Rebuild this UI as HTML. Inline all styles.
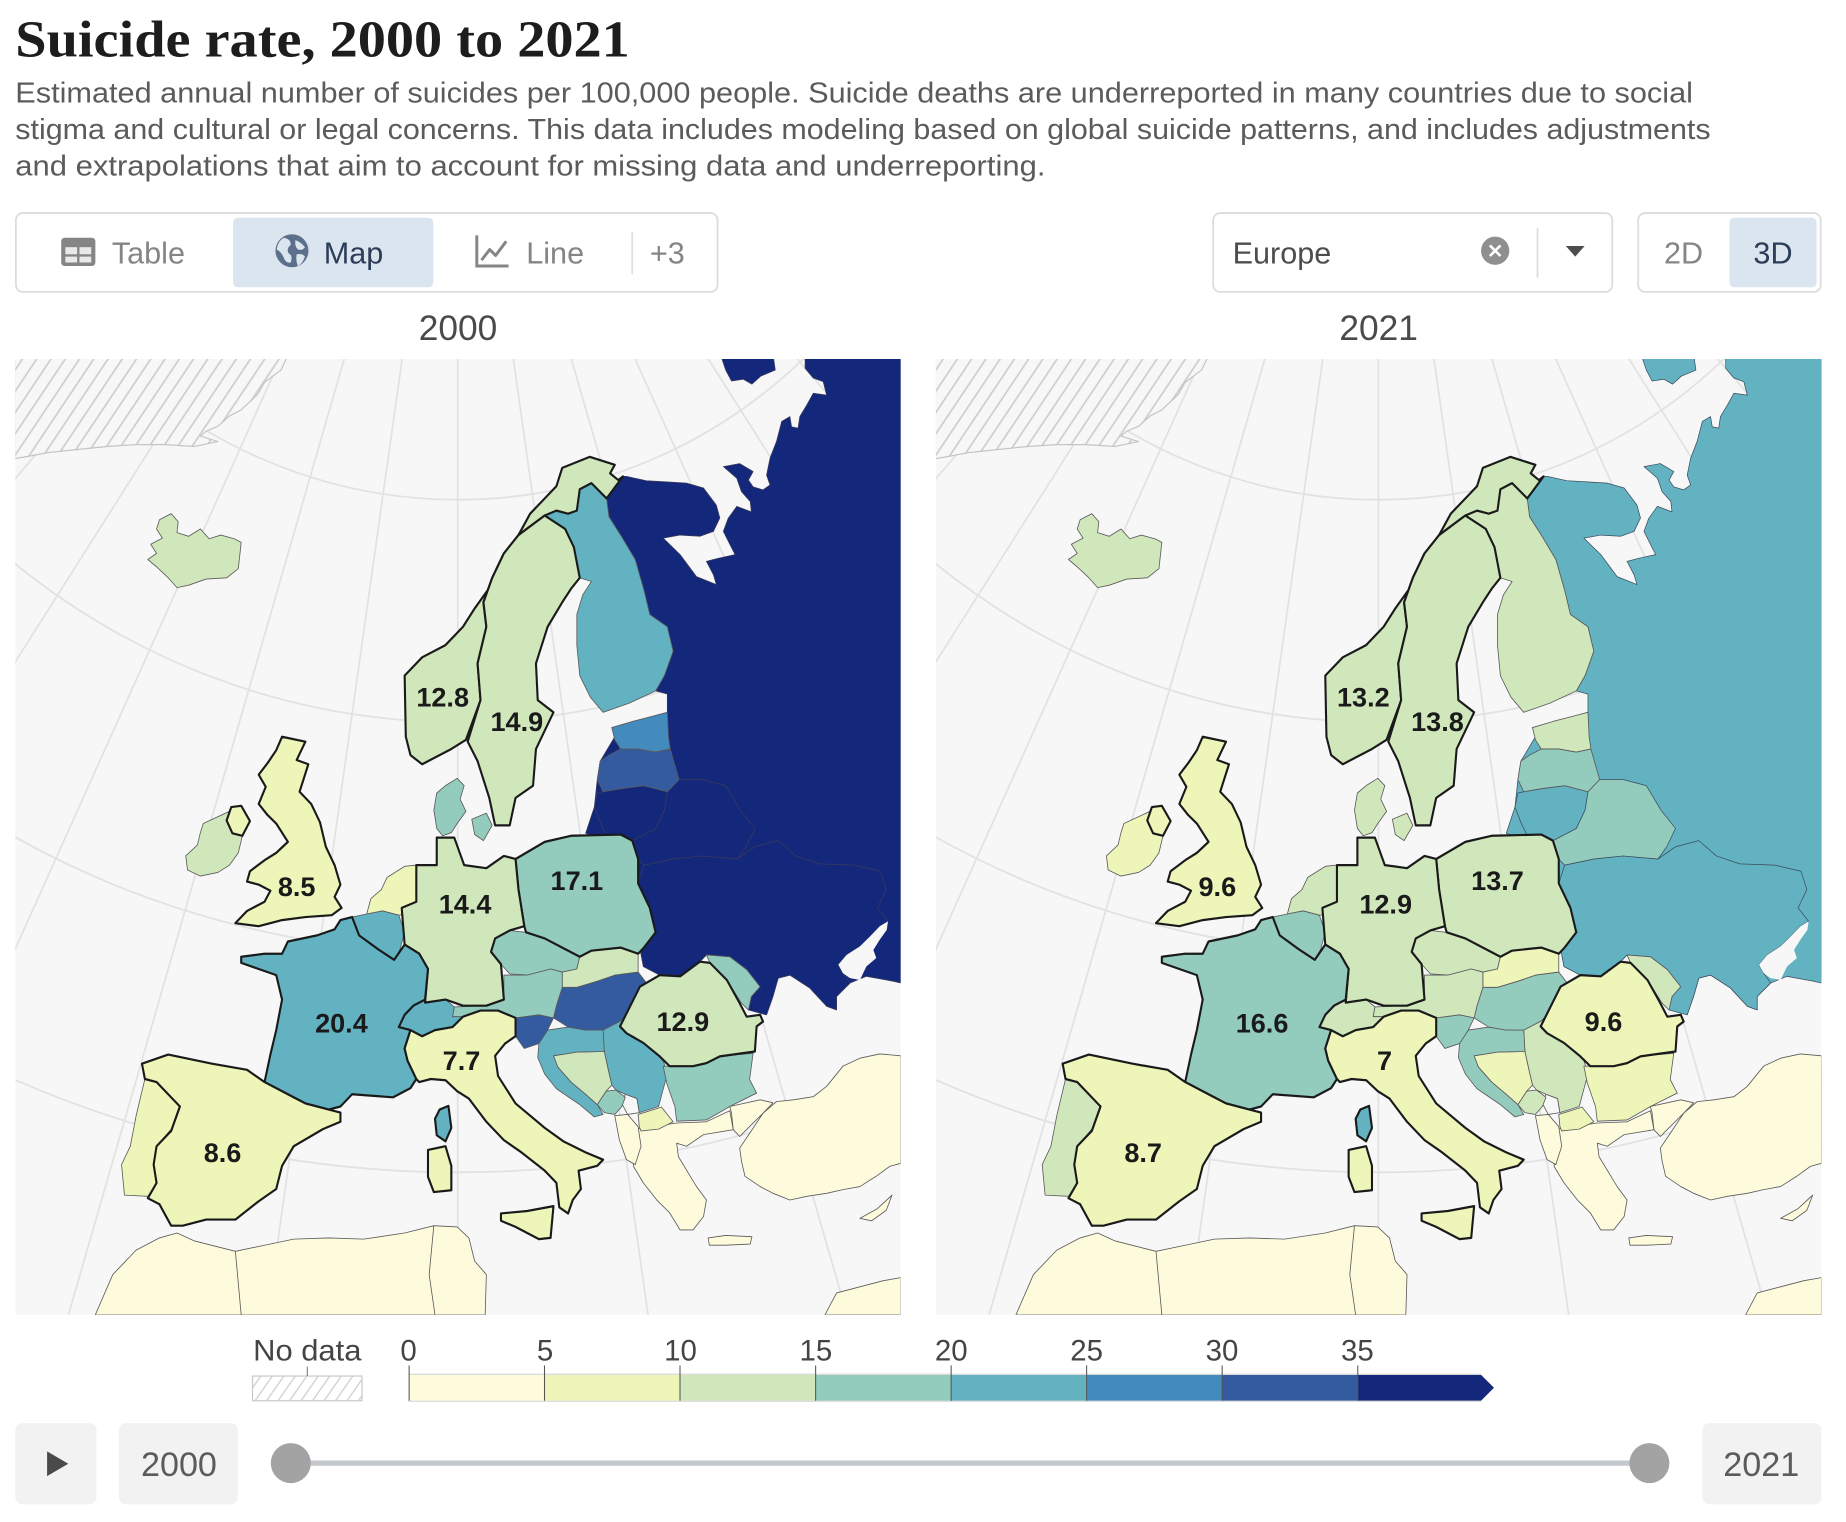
<!DOCTYPE html>
<html><head><meta charset="utf-8">
<style>html,body{margin:0;padding:0;background:#fff;overflow:hidden;width:1846px;height:1522px}svg{display:block}</style>
</head><body>
<svg xmlns="http://www.w3.org/2000/svg" width="1846" height="1522" viewBox="0 0 1568 1293" preserveAspectRatio="none" font-family="'Liberation Sans', sans-serif">
<defs>
<pattern id="hz" patternUnits="userSpaceOnUse" width="20" height="20" patternTransform="rotate(35)"><rect width="20" height="20" fill="#f7f7f7"/><line x1="10" y1="0" x2="10" y2="20" stroke="#c9c9c9" stroke-width="2.6"/></pattern>
<pattern id="hl" patternUnits="userSpaceOnUse" width="8" height="8" patternTransform="rotate(35)"><rect width="8" height="8" fill="#fff"/><line x1="4" y1="0" x2="4" y2="8" stroke="#cfcfcf" stroke-width="1.1"/></pattern>
<clipPath id="cl"><rect x="13" y="305" width="752" height="812"/></clipPath>
<clipPath id="cr"><rect x="795" y="305" width="752" height="812"/></clipPath>
</defs>
<rect width="1568" height="1293" fill="#fff"/>

<!-- Header -->
<text x="13" y="48" font-family="'Liberation Serif', serif" font-weight="bold" font-size="44" fill="#1d1d1d" textLength="522" lengthAdjust="spacingAndGlyphs">Suicide rate, 2000 to 2021</text>
<g font-size="24.5" fill="#5b5b5b">
<text x="13" y="87" textLength="1425" lengthAdjust="spacingAndGlyphs">Estimated annual number of suicides per 100,000 people. Suicide deaths are underreported in many countries due to social</text>
<text x="13" y="118" textLength="1440" lengthAdjust="spacingAndGlyphs">stigma and cultural or legal concerns. This data includes modeling based on global suicide patterns, and includes adjustments</text>
<text x="13" y="149" textLength="875" lengthAdjust="spacingAndGlyphs">and extrapolations that aim to account for missing data and underreporting.</text>
</g>

<!-- Controls -->
<rect x="13.5" y="181" width="596" height="67" rx="6" fill="#fff" stroke="#dcdcdc" stroke-width="1.5"/>
<rect x="198" y="185" width="170" height="59" rx="4" fill="#dbe5f0"/>
<rect x="52" y="202" width="29" height="24" rx="3" fill="#858585"/>
<rect x="55.5" y="210" width="10" height="6" fill="#e9e9e9"/><rect x="67.5" y="210" width="10" height="6" fill="#e9e9e9"/>
<rect x="55.5" y="218" width="10" height="5" fill="#e9e9e9"/><rect x="67.5" y="218" width="10" height="5" fill="#e9e9e9"/>
<text x="95" y="224" font-size="26" fill="#858585">Table</text>
<circle cx="248" cy="213" r="14" fill="#5c6f8b"/>
<path d="M241,202 q6,1 6,6 q-4,3 -2,7 q4,2 2,8 q-4,1 -6,-4 q-2,-5 -6,-7 q1,-7 6,-10z M251,204 q5,2 8,6 q-2,3 -6,2 q-3,-3 -2,-8z M252,216 q5,-1 7,2 q-2,6 -6,8 q-2,-5 -1,-10z" fill="#dbe5f0"/>
<text x="275" y="224" font-size="26" fill="#2b3d57">Map</text>
<path d="M405,200 V226 H432" stroke="#858585" stroke-width="2.5" fill="none"/>
<path d="M409,221 L416,212 L421,217 L430,205" stroke="#858585" stroke-width="2.5" fill="none" stroke-linejoin="round"/>
<text x="447" y="224" font-size="26" fill="#858585">Line</text>
<line x1="537" y1="197" x2="537" y2="233" stroke="#e0e0e0" stroke-width="1.5"/>
<text x="552" y="224" font-size="26" fill="#858585">+3</text>

<rect x="1030.5" y="181" width="339" height="67" rx="6" fill="#fff" stroke="#dcdcdc" stroke-width="1.5"/>
<text x="1047" y="224" font-size="26" fill="#4d4d4d">Europe</text>
<circle cx="1270" cy="213" r="12" fill="#8f8f8f"/>
<path d="M1265.5,208.5 L1274.5,217.5 M1274.5,208.5 L1265.5,217.5" stroke="#fff" stroke-width="2.2"/>
<line x1="1306" y1="194" x2="1306" y2="236" stroke="#dcdcdc" stroke-width="1.5"/>
<polygon points="1330,209 1346,209 1338,218" fill="#4d4d4d"/>

<rect x="1391.5" y="181" width="155" height="67" rx="6" fill="#fff" stroke="#dcdcdc" stroke-width="1.5"/>
<rect x="1469" y="185" width="74" height="59" rx="4" fill="#dbe5f0"/>
<text x="1430" y="224" font-size="26" fill="#858585" text-anchor="middle">2D</text>
<text x="1506" y="224" font-size="26" fill="#2b3d57" text-anchor="middle">3D</text>

<text x="389" y="289" font-size="30" fill="#4a4a4a" text-anchor="middle">2000</text>
<text x="1171" y="289" font-size="30" fill="#4a4a4a" text-anchor="middle">2021</text>

<!-- LEFT MAP (2000) -->
<g clip-path="url(#cl)">
<rect x="13" y="305" width="752" height="812" fill="#f7f7f7"/>
<g transform="translate(1.6 304) scale(0.4958 0.5192)" stroke-linejoin="round">
<g stroke="#e2e2e2" stroke-width="3" fill="none">
<path d="M781,0 L781,1566 M876,0 L1107,1566 M686,0 L455,1566 M975,0 L1448,1566 M587,0 L114,1566 M1084,0 L1566,1024 M478,0 L0,1016 M1209,0 L1566,538 M353,0 L0,532 M1361,0 L1566,228 M201,0 L0,223"/>
<path d="M187,0 A876,876 0 0,0 1375,0 M0,319 A1240,1240 0 0,0 1566,316 M0,772 A1617,1617 0 0,0 1566,770 M0,1172 A1977,1977 0 0,0 1566,1170"/>
</g>
<polygon points="22,0 488,0 478,20 450,40 438,60 410,85 390,95 370,112 350,120 340,128 370,137 330,145 280,142 230,142 180,145 130,150 80,155 40,162 22,165" fill="url(#hz)" stroke="#c4c4c4" stroke-width="2"/>
<g stroke="#5a5a5a" stroke-width="1.4">
<polygon points="160,1566 190,1500 230,1460 270,1440 300,1432 330,1445 400,1462 450,1452 500,1442 560,1440 620,1442 690,1432 740,1420 780,1422 800,1440 810,1478 830,1500 828,1566" fill="#fdfbdb"/>
<path d="M400,1462 L410,1566 M740,1420 L732,1500 L742,1566" fill="none"/>
<polygon points="1410,1566 1430,1530 1470,1520 1510,1510 1540,1505 1540,1566" fill="#fdfbdb"/>
<polygon points="1264,1293 1281,1269 1304,1236 1327,1217 1356,1214 1390,1209 1413,1192 1441,1159 1470,1146 1504,1139 1540,1142 1540,1318 1521,1323 1498,1339 1470,1356 1441,1361 1413,1367 1379,1372 1350,1378 1321,1367 1299,1356 1273,1339 1267,1314" fill="#fdfbdb"/>
<polygon points="1247,1225 1299,1214 1321,1219 1304,1236 1264,1274 1253,1263 1250,1236" fill="#fdfbdb"/>
<polygon points="1087,1262 1156,1252 1207,1250 1247,1232 1253,1263 1202,1271 1173,1290 1156,1285 1159,1307 1190,1356 1207,1378 1202,1405 1184,1427 1162,1427 1144,1399 1122,1378 1099,1350 1082,1323" fill="#fdfbdb"/>
<polygon points="1210,1440 1240,1436 1285,1438 1282,1450 1240,1452 1212,1452" fill="#fdfbdb"/>
<polygon points="1470,1408 1500,1392 1525,1370 1515,1395 1490,1412" fill="#fdfbdb"/>
<polygon points="1050,1240 1072,1238 1090,1258 1095,1290 1085,1320 1070,1312 1058,1280" fill="#fdfbdb"/>
</g>
<g stroke="#3a3a5a" stroke-width="1.2">
<polygon points="1064,194 1070,194 1104,201 1139,203 1173,205 1202,213 1224,241 1230,262 1219,284 1196,292 1162,290 1133,295 1162,322 1190,358 1224,371 1219,355 1207,333 1227,328 1256,322 1236,284 1244,263 1259,243 1284,252 1282,235 1267,219 1259,197 1236,178 1264,173 1287,186 1279,200 1287,211 1304,216 1316,208 1310,192 1316,164 1327,137 1336,104 1350,96 1353,113 1364,115 1367,96 1379,77 1390,58 1413,61 1407,39 1390,33 1376,17 1376,0 1540,0 1540,1023 1527,1020 1481,1012 1453,1023 1430,1045 1430,1067 1413,1061 1384,1031 1350,1010 1330,1015 1321,1045 1310,1075 1279,1067 1284,1045 1299,1029 1276,1001 1247,980 1207,977 1196,988 1162,1012 1127,1010 1099,996 1093,966 1100,965 1120,940 1110,900 1090,860 1090,820 1080,790 1040,790 1000,778 1015,735 1020,690 1025,660 1050,620 1045,605 1140,580 1140,550 1120,545 1135,520 1150,480 1140,440 1110,420 1100,380 1085,330 1060,290 1040,260 1036,230" fill="#14287b"/>
<polygon points="1233,0 1322,0 1325,20 1300,30 1285,43 1270,35 1250,38 1240,20" fill="#14287b"/>
<polygon points="1100,830 1150,820 1200,815 1260,820 1290,800 1330,790 1360,815 1400,828 1460,830 1505,840 1515,870 1500,900 1518,922 1504,930 1487,947 1470,963 1447,977 1433,993 1441,1007 1453,1023 1430,1045 1430,1067 1413,1061 1384,1031 1350,1010 1330,1015 1321,1045 1310,1075 1279,1067 1284,1045 1299,1029 1276,1001 1247,980 1207,977 1196,988 1162,1012 1127,1010 1099,996 1093,966 1100,965 1120,940 1110,900 1090,860" fill="#14287b"/>
<polygon points="1433,993 1447,977 1470,963 1487,947 1504,930 1518,922 1516,936 1504,952 1493,969 1498,982 1481,996 1470,1018 1453,1015 1441,1007" fill="#f7f7f7" stroke="none"/>
<polygon points="1140,710 1160,690 1200,690 1240,700 1265,740 1290,770 1275,800 1260,820 1200,815 1150,820 1100,830 1090,820 1080,790 1120,770 1135,740" fill="#14287b"/>
<polygon points="1030,710 1060,705 1100,700 1140,710 1135,740 1120,770 1080,790 1040,790 1025,760 1015,735 1020,712" fill="#14287b"/>
</g>
<g stroke="#5a5a5a" stroke-width="1.4">
<polygon points="1025,660 1040,650 1060,640 1090,640 1120,645 1145,640 1160,690 1140,710 1100,700 1060,705 1030,710 1020,690" fill="#345b9f"/>
<polygon points="1045,605 1080,595 1120,585 1140,580 1142,620 1145,640 1120,645 1090,640 1060,640 1050,625" fill="#438bbd"/>
<polygon points="930,258 950,250 970,255 985,250 990,215 1010,205 1036,230 1040,260 1060,290 1085,330 1100,380 1110,420 1140,440 1150,480 1135,520 1120,545 1075,565 1030,580 1008,555 990,520 985,470 985,420 995,388 1010,366 990,360 980,310 965,280" fill="#62b2c2"/>
<polygon points="1090,1238 1130,1226 1150,1250 1125,1262 1095,1265 1092,1258" fill="#eef5b9"/>
<polygon points="1068,1205 1088,1212 1092,1235 1072,1238 1062,1220" fill="#f7f7f7"/>
<polygon points="1020,1222 1035,1200 1052,1198 1068,1210 1062,1225 1050,1238 1032,1235" fill="#93cbbd"/>
<polygon points="1030,1100 1050,1080 1080,1090 1100,1120 1130,1140 1140,1172 1132,1200 1125,1225 1092,1235 1088,1212 1068,1205 1052,1198 1045,1190 1040,1170 1032,1135" fill="#62b2c2"/>
<polygon points="945,1142 985,1136 1032,1135 1040,1170 1045,1190 1035,1200 1020,1222 1000,1205 975,1185 952,1160" fill="#d0e7bc"/>
<polygon points="920,1122 935,1100 970,1095 1000,1100 1030,1100 1032,1135 985,1136 945,1142 952,1160 975,1185 1000,1205 1020,1222 1030,1238 1015,1242 990,1222 950,1196 930,1172 918,1145" fill="#62b2c2"/>
<polygon points="880,1080 920,1075 945,1080 935,1100 920,1122 895,1130 880,1110" fill="#345b9f"/>
<polygon points="960,1030 985,1030 1020,1020 1050,1010 1090,1005 1110,1030 1085,1060 1060,1085 1030,1100 1000,1100 970,1095 945,1080 950,1060" fill="#345b9f"/>
<polygon points="1133,1159 1184,1159 1224,1143 1287,1138 1281,1181 1293,1203 1247,1225 1207,1247 1156,1249 1153,1225 1139,1187" fill="#93cbbd"/>
<polygon points="1207,977 1247,980 1276,1001 1299,1029 1284,1045 1279,1067 1267,1056 1242,1018 1213,990" fill="#93cbbd"/>
<polygon points="845,950 870,937 898,940 930,950 960,965 990,980 985,1000 960,1005 940,1000 900,1010 870,1008 855,992 838,972" fill="#93cbbd"/>
<polygon points="990,980 1010,970 1060,965 1090,975 1090,1005 1050,1010 1020,1020 985,1030 960,1030 960,1005 985,1000" fill="#d0e7bc"/>
<polygon points="860,1010 900,1010 940,1000 960,1005 960,1030 950,1060 945,1080 920,1075 880,1080 850,1068 820,1068 790,1078 772,1078 775,1062 830,1060 860,1050" fill="#93cbbd"/>
<polygon points="660,850 690,832 710,830 710,890 700,910 680,912 652,905 625,910 632,885 650,870" fill="#eef5b9"/>
<polygon points="600,915 625,910 652,905 680,912 690,940 682,968 672,985 645,968 612,945" fill="#62b2c2"/>
<polygon points="745,712 760,700 780,688 792,700 785,722 795,742 780,762 770,777 755,782 745,770 740,740" fill="#93cbbd"/>
<polygon points="805,755 830,745 840,765 825,790 810,780" fill="#93cbbd"/>
<polygon points="270,265 290,255 302,268 300,286 320,292 340,280 355,296 375,290 398,296 410,302 405,345 385,360 350,362 320,372 300,376 285,360 265,342 250,330 265,320 255,305 275,295 265,280" fill="#d0e7bc"/>
<polygon points="345,762 390,742 385,757 395,778 412,782 405,810 390,830 370,842 340,848 318,838 315,815 335,797 340,777" fill="#d0e7bc"/>
<polygon points="690,1075 705,1060 725,1052 760,1050 775,1062 772,1078 790,1078 772,1095 742,1100 720,1110 700,1100 680,1095" fill="#62b2c2"/>
<polygon points="245,1180 265,1185 280,1200 305,1222 290,1262 265,1290 260,1320 265,1350 250,1372 210,1370 205,1320 220,1290 230,1240" fill="#eef5b9"/>
</g>
<g stroke="#1a1a1a" stroke-width="3.6">
<polygon points="690,520 720,490 760,470 790,440 810,410 840,370 860,322 885,290 905,255 935,225 950,210 960,180 1007,162 1050,175 1042,189 1056,200 1064,194 1036,230 1010,205 990,215 985,250 970,255 950,250 930,258 885,290 860,320 840,360 825,400 830,440 815,500 820,560 795,625 770,640 740,655 720,665 700,650 692,620" fill="#d0e7bc"/>
<polygon points="885,290 930,258 965,280 980,310 990,360 975,378 960,400 935,440 915,500 918,560 945,580 915,640 910,700 880,720 870,765 845,765 835,720 815,660 798,628 820,560 815,500 830,440 825,400 840,360 860,320" fill="#d0e7bc"/>
<polygon points="880,820 930,792 975,782 1060,780 1080,790 1090,820 1090,860 1110,900 1120,940 1100,965 1090,975 1060,965 1010,970 990,980 960,965 930,950 898,940 895,930 885,870" fill="#93cbbd"/>
<polygon points="710,830 745,830 745,785 775,785 792,830 830,835 860,815 880,820 885,870 895,930 870,937 845,950 838,972 855,992 860,1050 830,1060 790,1060 760,1050 725,1055 730,1000 715,975 690,960 685,900 710,890" fill="#d0e7bc"/>
<polygon points="600,915 612,945 645,968 672,985 690,960 715,975 730,1000 725,1050 705,1060 690,1075 680,1095 700,1100 690,1130 695,1150 710,1180 700,1195 670,1210 600,1205 580,1225 560,1230 520,1220 500,1210 450,1185 460,1140 470,1100 480,1050 470,1010 440,1000 410,990 410,980 450,975 480,975 490,955 540,945 570,935 580,920" fill="#62b2c2"/>
<polygon points="750,1230 765,1224 770,1260 760,1282 745,1272 742,1245" fill="#62b2c2"/>
<polygon points="700,1100 720,1110 742,1100 772,1095 790,1078 820,1068 850,1068 880,1080 880,1110 862,1122 845,1142 850,1175 880,1220 930,1260 962,1282 1000,1300 1030,1312 1020,1322 988,1330 992,1360 978,1378 970,1400 955,1390 950,1350 930,1330 890,1300 860,1280 830,1250 800,1212 780,1200 760,1182 735,1180 715,1185 710,1180 695,1150 690,1130" fill="#eef5b9"/>
<polygon points="855,1400 900,1396 945,1388 940,1440 920,1442 880,1422 855,1412" fill="#eef5b9"/>
<polygon points="730,1296 760,1290 770,1322 770,1362 740,1365 730,1340" fill="#eef5b9"/>
<polygon points="240,1155 285,1140 360,1155 420,1165 450,1185 500,1210 520,1220 560,1230 580,1235 580,1250 550,1262 500,1290 480,1322 470,1360 440,1380 400,1410 350,1410 310,1420 290,1420 270,1385 250,1375 265,1350 260,1320 265,1290 290,1265 305,1225 280,1200 265,1185 245,1180" fill="#eef5b9"/>
<polygon points="480,620 520,628 505,658 525,665 510,710 530,730 545,760 555,800 570,830 580,862 570,882 582,900 565,912 520,915 480,920 440,930 400,925 420,905 450,890 460,872 440,862 420,857 425,840 450,822 470,810 490,792 470,762 455,748 440,730 452,702 440,682 456,662 470,642" fill="#eef5b9"/>
<polygon points="393,735 410,733 425,758 412,782 395,778 385,757" fill="#eef5b9"/>
<polygon points="1059,1094 1093,1029 1127,1010 1162,1012 1196,988 1213,990 1242,1018 1264,1056 1276,1078 1299,1075 1304,1086 1293,1094 1290,1135 1230,1143 1207,1154 1184,1159 1144,1159 1127,1143 1099,1121 1070,1105" fill="#d0e7bc"/>
</g>
</g>
<g font-size="23" font-weight="bold" fill="#1a1a1a" text-anchor="middle">
<text x="376" y="600">12.8</text><text x="439" y="621">14.9</text><text x="252" y="761">8.5</text>
<text x="395" y="776">14.4</text><text x="490" y="756">17.1</text><text x="290" y="877">20.4</text>
<text x="392" y="909">7.7</text><text x="580" y="876">12.9</text><text x="189" y="987">8.6</text>
</g>
</g>

<!-- RIGHT MAP (2021) -->
<g clip-path="url(#cr)">
<rect x="795" y="305" width="752" height="812" fill="#f7f7f7"/>
<g transform="translate(783.6 304) scale(0.4958 0.5192)" stroke-linejoin="round">
<g stroke="#e2e2e2" stroke-width="3" fill="none">
<path d="M781,0 L781,1566 M876,0 L1107,1566 M686,0 L455,1566 M975,0 L1448,1566 M587,0 L114,1566 M1084,0 L1566,1024 M478,0 L0,1016 M1209,0 L1566,538 M353,0 L0,532 M1361,0 L1566,228 M201,0 L0,223"/>
<path d="M187,0 A876,876 0 0,0 1375,0 M0,319 A1240,1240 0 0,0 1566,316 M0,772 A1617,1617 0 0,0 1566,770 M0,1172 A1977,1977 0 0,0 1566,1170"/>
</g>
<polygon points="22,0 488,0 478,20 450,40 438,60 410,85 390,95 370,112 350,120 340,128 370,137 330,145 280,142 230,142 180,145 130,150 80,155 40,162 22,165" fill="url(#hz)" stroke="#c4c4c4" stroke-width="2"/>
<g stroke="#5a5a5a" stroke-width="1.4">
<polygon points="160,1566 190,1500 230,1460 270,1440 300,1432 330,1445 400,1462 450,1452 500,1442 560,1440 620,1442 690,1432 740,1420 780,1422 800,1440 810,1478 830,1500 828,1566" fill="#fdfbdb"/>
<path d="M400,1462 L410,1566 M740,1420 L732,1500 L742,1566" fill="none"/>
<polygon points="1410,1566 1430,1530 1470,1520 1510,1510 1540,1505 1540,1566" fill="#fdfbdb"/>
<polygon points="1264,1293 1281,1269 1304,1236 1327,1217 1356,1214 1390,1209 1413,1192 1441,1159 1470,1146 1504,1139 1540,1142 1540,1318 1521,1323 1498,1339 1470,1356 1441,1361 1413,1367 1379,1372 1350,1378 1321,1367 1299,1356 1273,1339 1267,1314" fill="#fdfbdb"/>
<polygon points="1247,1225 1299,1214 1321,1219 1304,1236 1264,1274 1253,1263 1250,1236" fill="#fdfbdb"/>
<polygon points="1087,1262 1156,1252 1207,1250 1247,1232 1253,1263 1202,1271 1173,1290 1156,1285 1159,1307 1190,1356 1207,1378 1202,1405 1184,1427 1162,1427 1144,1399 1122,1378 1099,1350 1082,1323" fill="#fdfbdb"/>
<polygon points="1210,1440 1240,1436 1285,1438 1282,1450 1240,1452 1212,1452" fill="#fdfbdb"/>
<polygon points="1470,1408 1500,1392 1525,1370 1515,1395 1490,1412" fill="#fdfbdb"/>
<polygon points="1050,1240 1072,1238 1090,1258 1095,1290 1085,1320 1070,1312 1058,1280" fill="#fdfbdb"/>
</g>
<g stroke="#3a4a5a" stroke-width="1.2">
<polygon points="1064,194 1070,194 1104,201 1139,203 1173,205 1202,213 1224,241 1230,262 1219,284 1196,292 1162,290 1133,295 1162,322 1190,358 1224,371 1219,355 1207,333 1227,328 1256,322 1236,284 1244,263 1259,243 1284,252 1282,235 1267,219 1259,197 1236,178 1264,173 1287,186 1279,200 1287,211 1304,216 1316,208 1310,192 1316,164 1327,137 1336,104 1350,96 1353,113 1364,115 1367,96 1379,77 1390,58 1413,61 1407,39 1390,33 1376,17 1376,0 1540,0 1540,1023 1527,1020 1481,1012 1453,1023 1430,1045 1430,1067 1413,1061 1384,1031 1350,1010 1330,1015 1321,1045 1310,1075 1279,1067 1284,1045 1299,1029 1276,1001 1247,980 1207,977 1196,988 1162,1012 1127,1010 1099,996 1093,966 1100,965 1120,940 1110,900 1090,860 1090,820 1080,790 1040,790 1000,778 1015,735 1020,690 1025,660 1050,620 1045,605 1140,580 1140,550 1120,545 1135,520 1150,480 1140,440 1110,420 1100,380 1085,330 1060,290 1040,260 1036,230" fill="#62b2c2"/>
<polygon points="1233,0 1322,0 1325,20 1300,30 1285,43 1270,35 1250,38 1240,20" fill="#62b2c2"/>
<polygon points="1100,830 1150,820 1200,815 1260,820 1290,800 1330,790 1360,815 1400,828 1460,830 1505,840 1515,870 1500,900 1518,922 1504,930 1487,947 1470,963 1447,977 1433,993 1441,1007 1453,1023 1430,1045 1430,1067 1413,1061 1384,1031 1350,1010 1330,1015 1321,1045 1310,1075 1279,1067 1284,1045 1299,1029 1276,1001 1247,980 1207,977 1196,988 1162,1012 1127,1010 1099,996 1093,966 1100,965 1120,940 1110,900 1090,860" fill="#62b2c2"/>
<polygon points="1433,993 1447,977 1470,963 1487,947 1504,930 1518,922 1516,936 1504,952 1493,969 1498,982 1481,996 1470,1018 1453,1015 1441,1007" fill="#f7f7f7" stroke="none"/>
<polygon points="1140,710 1160,690 1200,690 1240,700 1265,740 1290,770 1275,800 1260,820 1200,815 1150,820 1100,830 1090,820 1080,790 1120,770 1135,740" fill="#93cbbd"/>
<polygon points="1030,710 1060,705 1100,700 1140,710 1135,740 1120,770 1080,790 1040,790 1025,760 1015,735 1020,712" fill="#62b2c2"/>
</g>
<g stroke="#5a5a5a" stroke-width="1.4">
<polygon points="1025,660 1040,650 1060,640 1090,640 1120,645 1145,640 1160,690 1140,710 1100,700 1060,705 1030,710 1020,690" fill="#93cbbd"/>
<polygon points="1045,605 1080,595 1120,585 1140,580 1142,620 1145,640 1120,645 1090,640 1060,640 1050,625" fill="#d0e7bc"/>
<polygon points="930,258 950,250 970,255 985,250 990,215 1010,205 1036,230 1040,260 1060,290 1085,330 1100,380 1110,420 1140,440 1150,480 1135,520 1120,545 1075,565 1030,580 1008,555 990,520 985,470 985,420 995,388 1010,366 990,360 980,310 965,280" fill="#d0e7bc"/>
<polygon points="1090,1238 1130,1226 1150,1250 1125,1262 1095,1265 1092,1258" fill="#eef5b9"/>
<polygon points="1068,1205 1088,1212 1092,1235 1072,1238 1062,1220" fill="#f7f7f7"/>
<polygon points="1020,1222 1035,1200 1052,1198 1068,1210 1062,1225 1050,1238 1032,1235" fill="#d0e7bc"/>
<polygon points="1030,1100 1050,1080 1080,1090 1100,1120 1130,1140 1140,1172 1132,1200 1125,1225 1092,1235 1088,1212 1068,1205 1052,1198 1045,1190 1040,1170 1032,1135" fill="#d0e7bc"/>
<polygon points="945,1142 985,1136 1032,1135 1040,1170 1045,1190 1035,1200 1020,1222 1000,1205 975,1185 952,1160" fill="#eef5b9"/>
<polygon points="920,1122 935,1100 970,1095 1000,1100 1030,1100 1032,1135 985,1136 945,1142 952,1160 975,1185 1000,1205 1020,1222 1030,1238 1015,1242 990,1222 950,1196 930,1172 918,1145" fill="#93cbbd"/>
<polygon points="880,1080 920,1075 945,1080 935,1100 920,1122 895,1130 880,1110" fill="#93cbbd"/>
<polygon points="960,1030 985,1030 1020,1020 1050,1010 1090,1005 1110,1030 1085,1060 1060,1085 1030,1100 1000,1100 970,1095 945,1080 950,1060" fill="#93cbbd"/>
<polygon points="1133,1159 1184,1159 1224,1143 1287,1138 1281,1181 1293,1203 1247,1225 1207,1247 1156,1249 1153,1225 1139,1187" fill="#eef5b9"/>
<polygon points="1207,977 1247,980 1276,1001 1299,1029 1284,1045 1279,1067 1267,1056 1242,1018 1213,990" fill="#d0e7bc"/>
<polygon points="845,950 870,937 898,940 930,950 960,965 990,980 985,1000 960,1005 940,1000 900,1010 870,1008 855,992 838,972" fill="#d0e7bc"/>
<polygon points="990,980 1010,970 1060,965 1090,975 1090,1005 1050,1010 1020,1020 985,1030 960,1030 960,1005 985,1000" fill="#eef5b9"/>
<polygon points="860,1010 900,1010 940,1000 960,1005 960,1030 950,1060 945,1080 920,1075 880,1080 850,1068 820,1068 790,1078 772,1078 775,1062 830,1060 860,1050" fill="#d0e7bc"/>
<polygon points="660,850 690,832 710,830 710,890 700,910 680,912 652,905 625,910 632,885 650,870" fill="#d0e7bc"/>
<polygon points="600,915 625,910 652,905 680,912 690,940 682,968 672,985 645,968 612,945" fill="#93cbbd"/>
<polygon points="745,712 760,700 780,688 792,700 785,722 795,742 780,762 770,777 755,782 745,770 740,740" fill="#d0e7bc"/>
<polygon points="805,755 830,745 840,765 825,790 810,780" fill="#d0e7bc"/>
<polygon points="270,265 290,255 302,268 300,286 320,292 340,280 355,296 375,290 398,296 410,302 405,345 385,360 350,362 320,372 300,376 285,360 265,342 250,330 265,320 255,305 275,295 265,280" fill="#d0e7bc"/>
<polygon points="345,762 390,742 385,757 395,778 412,782 405,810 390,830 370,842 340,848 318,838 315,815 335,797 340,777" fill="#eef5b9"/>
<polygon points="690,1075 705,1060 725,1052 760,1050 775,1062 772,1078 790,1078 772,1095 742,1100 720,1110 700,1100 680,1095" fill="#d0e7bc"/>
<polygon points="245,1180 265,1185 280,1200 305,1222 290,1262 265,1290 260,1320 265,1350 250,1372 210,1370 205,1320 220,1290 230,1240" fill="#d0e7bc"/>
</g>
<g stroke="#1a1a1a" stroke-width="3.6">
<polygon points="690,520 720,490 760,470 790,440 810,410 840,370 860,322 885,290 905,255 935,225 950,210 960,180 1007,162 1050,175 1042,189 1056,200 1064,194 1036,230 1010,205 990,215 985,250 970,255 950,250 930,258 885,290 860,320 840,360 825,400 830,440 815,500 820,560 795,625 770,640 740,655 720,665 700,650 692,620" fill="#d0e7bc"/>
<polygon points="885,290 930,258 965,280 980,310 990,360 975,378 960,400 935,440 915,500 918,560 945,580 915,640 910,700 880,720 870,765 845,765 835,720 815,660 798,628 820,560 815,500 830,440 825,400 840,360 860,320" fill="#d0e7bc"/>
<polygon points="880,820 930,792 975,782 1060,780 1080,790 1090,820 1090,860 1110,900 1120,940 1100,965 1090,975 1060,965 1010,970 990,980 960,965 930,950 898,940 895,930 885,870" fill="#d0e7bc"/>
<polygon points="710,830 745,830 745,785 775,785 792,830 830,835 860,815 880,820 885,870 895,930 870,937 845,950 838,972 855,992 860,1050 830,1060 790,1060 760,1050 725,1055 730,1000 715,975 690,960 685,900 710,890" fill="#d0e7bc"/>
<polygon points="600,915 612,945 645,968 672,985 690,960 715,975 730,1000 725,1050 705,1060 690,1075 680,1095 700,1100 690,1130 695,1150 710,1180 700,1195 670,1210 600,1205 580,1225 560,1230 520,1220 500,1210 450,1185 460,1140 470,1100 480,1050 470,1010 440,1000 410,990 410,980 450,975 480,975 490,955 540,945 570,935 580,920" fill="#93cbbd"/>
<polygon points="750,1230 765,1224 770,1260 760,1282 745,1272 742,1245" fill="#62b2c2"/>
<polygon points="700,1100 720,1110 742,1100 772,1095 790,1078 820,1068 850,1068 880,1080 880,1110 862,1122 845,1142 850,1175 880,1220 930,1260 962,1282 1000,1300 1030,1312 1020,1322 988,1330 992,1360 978,1378 970,1400 955,1390 950,1350 930,1330 890,1300 860,1280 830,1250 800,1212 780,1200 760,1182 735,1180 715,1185 710,1180 695,1150 690,1130" fill="#eef5b9"/>
<polygon points="855,1400 900,1396 945,1388 940,1440 920,1442 880,1422 855,1412" fill="#eef5b9"/>
<polygon points="730,1296 760,1290 770,1322 770,1362 740,1365 730,1340" fill="#eef5b9"/>
<polygon points="240,1155 285,1140 360,1155 420,1165 450,1185 500,1210 520,1220 560,1230 580,1235 580,1250 550,1262 500,1290 480,1322 470,1360 440,1380 400,1410 350,1410 310,1420 290,1420 270,1385 250,1375 265,1350 260,1320 265,1290 290,1265 305,1225 280,1200 265,1185 245,1180" fill="#eef5b9"/>
<polygon points="480,620 520,628 505,658 525,665 510,710 530,730 545,760 555,800 570,830 580,862 570,882 582,900 565,912 520,915 480,920 440,930 400,925 420,905 450,890 460,872 440,862 420,857 425,840 450,822 470,810 490,792 470,762 455,748 440,730 452,702 440,682 456,662 470,642" fill="#eef5b9"/>
<polygon points="393,735 410,733 425,758 412,782 395,778 385,757" fill="#eef5b9"/>
<polygon points="1059,1094 1093,1029 1127,1010 1162,1012 1196,988 1213,990 1242,1018 1264,1056 1276,1078 1299,1075 1304,1086 1293,1094 1290,1135 1230,1143 1207,1154 1184,1159 1144,1159 1127,1143 1099,1121 1070,1105" fill="#eef5b9"/>
</g>
</g>
<g font-size="23" font-weight="bold" fill="#1a1a1a" text-anchor="middle">
<text x="1158" y="600">13.2</text><text x="1221" y="621">13.8</text><text x="1034" y="761">9.6</text>
<text x="1177" y="776">12.9</text><text x="1272" y="756">13.7</text><text x="1072" y="877">16.6</text>
<text x="1176" y="909">7</text><text x="1362" y="876">9.6</text><text x="971" y="987">8.7</text>
</g>
</g>

<!-- Legend -->
<g font-size="25" fill="#444">
<text x="215" y="1156" textLength="92" lengthAdjust="spacingAndGlyphs">No data</text>
<g text-anchor="middle">
<text x="347" y="1156">0</text><text x="463" y="1156">5</text><text x="578" y="1156">10</text>
<text x="693" y="1156">15</text><text x="808" y="1156">20</text><text x="923" y="1156">25</text>
<text x="1038" y="1156">30</text><text x="1153" y="1156">35</text>
</g>
</g>
<rect x="214.5" y="1169" width="93" height="21" fill="url(#hl)" stroke="#c8c8c8" stroke-width="1"/>
<line x1="261" y1="1161" x2="261" y2="1169" stroke="#666" stroke-width="0.8"/>
<rect x="347" y="1168" width="116" height="22" fill="#fdfbdb"/>
<rect x="462.5" y="1168" width="116" height="22" fill="#eef5b9"/>
<rect x="577.6" y="1168" width="116" height="22" fill="#d0e7bc"/>
<rect x="692.8" y="1168" width="116" height="22" fill="#93cbbd"/>
<rect x="807.9" y="1168" width="116" height="22" fill="#62b2c2"/>
<rect x="923" y="1168" width="116" height="22" fill="#438bbd"/>
<rect x="1038.1" y="1168" width="116" height="22" fill="#345b9f"/>
<polygon points="1153.3,1168 1258,1168 1269,1179 1258,1190 1153.3,1190" fill="#14287b"/>
<line x1="347" y1="1167.5" x2="1258" y2="1167.5" stroke="#d8d8d8" stroke-width="1"/>
<line x1="347" y1="1190.5" x2="1258" y2="1190.5" stroke="#d8d8d8" stroke-width="1"/>
<g stroke="#555" stroke-width="0.9">
<line x1="347.5" y1="1160" x2="347.5" y2="1190"/><line x1="462.5" y1="1160" x2="462.5" y2="1190"/>
<line x1="577.6" y1="1160" x2="577.6" y2="1190"/><line x1="692.8" y1="1160" x2="692.8" y2="1190"/>
<line x1="807.9" y1="1160" x2="807.9" y2="1190"/><line x1="923" y1="1160" x2="923" y2="1190"/>
<line x1="1038.1" y1="1160" x2="1038.1" y2="1190"/><line x1="1153.3" y1="1160" x2="1153.3" y2="1190"/>
</g>

<!-- Timeline -->
<rect x="13" y="1209" width="69" height="69" rx="6" fill="#f2f2f2"/>
<polygon points="40,1233 40,1254 58,1243.5" fill="#4a4a4a"/>
<rect x="101" y="1209" width="101" height="69" rx="6" fill="#f2f2f2"/>
<text x="152" y="1254" font-size="29" fill="#5b5b5b" text-anchor="middle">2000</text>
<line x1="247" y1="1243" x2="1401" y2="1243" stroke="#c3c8cd" stroke-width="4.5"/>
<circle cx="247" cy="1243" r="17" fill="#a3a3a3"/>
<circle cx="1401" cy="1243" r="17" fill="#a3a3a3"/>
<rect x="1446" y="1209" width="101" height="69" rx="6" fill="#f2f2f2"/>
<text x="1496" y="1254" font-size="29" fill="#5b5b5b" text-anchor="middle">2021</text>
</svg>
</body></html>
